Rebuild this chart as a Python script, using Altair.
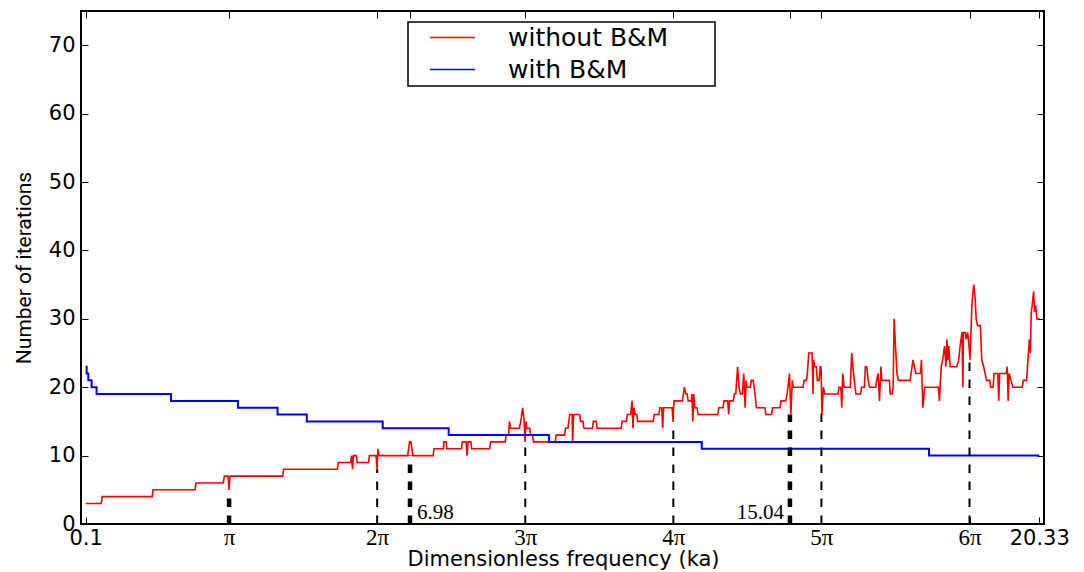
import math
import altair as alt
import pandas as pd

PI = math.pi

# "without B&M" series: (ka, number of iterations) vertices
red_points = [
    (0.10, 3), (0.43, 3), (0.45, 4), (1.51, 4), (1.53, 5), (2.42, 5), (2.44, 6),
    (3.02, 6), (3.04, 7), (3.12, 7), (3.14, 5), (3.16, 7), (4.28, 7), (4.30, 8),
    (5.44, 8), (5.46, 9), (5.72, 9), (5.74, 10), (5.76, 8), (5.78, 10), (5.84, 10),
    (5.86, 9), (6.10, 9), (6.12, 10), (6.26, 10), (6.28, 8), (6.30, 11), (6.32, 10),
    (6.93, 10), (6.97, 12), (7.00, 12), (7.04, 10), (7.47, 10), (7.49, 11),
    (7.69, 11), (7.70, 12), (7.75, 12), (7.76, 11), (8.07, 11), (8.09, 12),
    (8.17, 12), (8.19, 10), (8.21, 12), (8.27, 12), (8.29, 11), (8.67, 11),
    (8.69, 12), (9.00, 12), (9.02, 13), (9.07, 13), (9.09, 15), (9.11, 14),
    (9.30, 14), (9.33, 15), (9.37, 17), (9.40, 15), (9.42, 12), (9.44, 15),
    (9.46, 14), (9.52, 14), (9.54, 13), (9.58, 13), (9.60, 12), (10.06, 12),
    (10.08, 13), (10.26, 13), (10.28, 14), (10.33, 14), (10.35, 15), (10.37, 16),
    (10.42, 16), (10.43, 12), (10.45, 16), (10.58, 16), (10.60, 15), (10.65, 15),
    (10.67, 14), (10.85, 14), (10.87, 15), (10.93, 15), (10.95, 14), (11.46, 14),
    (11.48, 15), (11.57, 15), (11.59, 16), (11.66, 16), (11.69, 18), (11.71, 14),
    (11.73, 17), (11.76, 16), (11.79, 16), (11.81, 15), (12.14, 15), (12.16, 16),
    (12.26, 16), (12.28, 17), (12.32, 17), (12.34, 14), (12.36, 17), (12.54, 17),
    (12.56, 15), (12.58, 18), (12.76, 18), (12.80, 20), (12.83, 19), (12.86, 19),
    (12.88, 18), (12.95, 18), (12.96, 19), (12.98, 15), (13.00, 19), (13.02, 17),
    (13.07, 17), (13.09, 16), (13.51, 16), (13.53, 17), (13.62, 17), (13.64, 18),
    (13.72, 18), (13.74, 16), (13.76, 18), (13.84, 18), (13.86, 19), (13.89, 19),
    (13.93, 23), (13.96, 20), (13.99, 19), (14.03, 19), (14.06, 22), (14.09, 17),
    (14.11, 21), (14.13, 20), (14.20, 20), (14.22, 21), (14.26, 21), (14.30, 19),
    (14.33, 17), (14.51, 17), (14.53, 16), (14.65, 16), (14.67, 17), (14.83, 17),
    (14.85, 18), (14.95, 18), (14.98, 19), (15.03, 22), (15.06, 16), (15.09, 21),
    (15.11, 20), (15.32, 20), (15.34, 21), (15.39, 21), (15.41, 22), (15.44, 25),
    (15.51, 25), (15.53, 19), (15.54, 24), (15.57, 23), (15.60, 23), (15.62, 21),
    (15.66, 21), (15.68, 23), (15.70, 23), (15.72, 16), (15.75, 20), (15.78, 19),
    (16.06, 19), (16.08, 20), (16.12, 20), (16.14, 17), (16.16, 22), (16.19, 20),
    (16.32, 20), (16.35, 25), (16.39, 22), (16.42, 20), (16.44, 19), (16.54, 19),
    (16.56, 20), (16.62, 20), (16.64, 23), (16.67, 23), (16.70, 21), (16.73, 20),
    (16.86, 20), (16.88, 21), (16.91, 22), (16.94, 18), (16.97, 23), (16.99, 21),
    (17.15, 21), (17.17, 19), (17.21, 19), (17.23, 20), (17.25, 30), (17.28, 26),
    (17.31, 22), (17.34, 21), (17.59, 21), (17.61, 22), (17.65, 24), (17.68, 23),
    (17.71, 22), (17.81, 22), (17.83, 24), (17.86, 17), (17.90, 20), (18.19, 20),
    (18.21, 18), (18.25, 23), (18.28, 24), (18.32, 26), (18.35, 23), (18.37, 27),
    (18.39, 24), (18.41, 26), (18.44, 23), (18.58, 23), (18.62, 24), (18.65, 26),
    (18.69, 28), (18.71, 20), (18.72, 28), (18.76, 28), (18.78, 27), (18.81, 28),
    (18.84, 26), (18.86, 24), (18.90, 32), (18.94, 35), (18.97, 33), (18.99, 30),
    (19.02, 29), (19.08, 29), (19.11, 24), (19.15, 23), (19.18, 22), (19.21, 21),
    (19.28, 21), (19.30, 20), (19.35, 20), (19.37, 22), (19.45, 22), (19.47, 18),
    (19.49, 22), (19.63, 22), (19.65, 23), (19.67, 18), (19.69, 22), (19.73, 21),
    (19.77, 20), (19.97, 20), (19.99, 21), (20.06, 21), (20.08, 23), (20.12, 27),
    (20.14, 25), (20.16, 31), (20.18, 32), (20.21, 34), (20.23, 31), (20.25, 32),
    (20.28, 30), (20.33, 30),
]

# "with B&M" series: step breakpoints (value holds until the next x)
blue_x = [0.10, 0.12, 0.155, 0.225, 0.33, 1.91, 3.33, 4.17, 4.79, 6.40, 7.80,
          9.93, 13.17, 17.99, 20.33]
blue_y = [23, 22, 21, 20, 19, 18, 17, 16, 15, 14, 13, 12, 11, 10, 10]

series_names = ["without B&M", "with B&M"]
series_colors = ["#ff0000", "#0000ff"]

# dashed vertical markers
marker_x = [PI, 2 * PI, 6.98, 3 * PI, 4 * PI, 15.04, 5 * PI, 6 * PI]
marker_top = [5, 8, 10, 12, 15, 16, 16.5, 24]
marker_width = [4.5, 2, 4.5, 2, 2, 4.5, 2, 2]

# in-plot annotations
note_x = [6.98, 15.04]
note_text = ["6.98", "15.04"]
note_side = ["left", "right"]

x_tick_values = [0.1, PI, 2 * PI, 6.98, 3 * PI, 4 * PI, 15.04, 5 * PI, 6 * PI, 20.33]
x_tick_labels = ["0.1", "π", "2π", "", "3π", "4π", "", "5π", "6π", "20.33"]
y_tick_values = [0, 10, 20, 30, 40, 50, 60, 70]

X_DOMAIN = [0, 20.43]
Y_DOMAIN = [0, 75]

red_df = pd.DataFrame({
    "ka": [p[0] for p in red_points],
    "n": [p[1] for p in red_points],
    "series": series_names[0],
})
blue_df = pd.DataFrame({"ka": blue_x, "n": blue_y, "series": series_names[1]})
marker_df = pd.DataFrame({"ka": marker_x, "top": marker_top, "zero": 0, "w": marker_width})
note_df = pd.DataFrame({"ka": note_x, "label": note_text, "side": note_side, "zero": 0})

expr = "''"
for v, t in reversed(list(zip(x_tick_values, x_tick_labels))):
    expr = f"(abs(datum.value - {v:.6f}) < 0.001 ? '{t}' : {expr})"
label_expr = expr

xs = alt.Scale(domain=X_DOMAIN, nice=False, zero=False)
ys = alt.Scale(domain=Y_DOMAIN, nice=False)
cs = alt.Scale(domain=series_names, range=series_colors)

sans_test = "datum.value < 1 || datum.value > 20"

x_axis_bottom = alt.Axis(
    orient="bottom", values=x_tick_values, labelExpr=label_expr,
    title="Dimensionless frequency (ka)", offset=-7, tickSize=7, domain=False,
    grid=False, labelFlush=False, labelOverlap=False, labelPadding=20,
    labelBaseline="alphabetic",
    labelFont={"condition": {"test": sans_test, "value": "DejaVu Sans"}, "value": "Liberation Serif"},
    labelFontSize={"condition": {"test": sans_test, "value": 21}, "value": 23},
    titleFont="DejaVu Sans", titleFontSize=21, titleFontWeight="normal",
    titleX=482, titleY=48, titleBaseline="alphabetic", titleAlign="center",
)
y_axis_left = alt.Axis(
    orient="left", values=y_tick_values, title="Number of iterations",
    offset=-7, tickSize=7, domain=False, grid=False, labelPadding=6,
    labelFont="DejaVu Sans", labelFontSize=21,
    titleFont="Roboto", titleFontSize=21, titleFontWeight="normal",
    titleX=-58, titleY=256.5, titleAngle=270, titleBaseline="alphabetic",
    titleAlign="center",
)
x_axis_top = alt.Axis(orient="top", values=x_tick_values, labels=False, title=None,
                      offset=-7, tickSize=7, domain=False, grid=False)
y_axis_right = alt.Axis(orient="right", values=y_tick_values, labels=False, title=None,
                        offset=-7, tickSize=7, domain=False, grid=False)

legend = alt.Legend(
    title=" ", titleOrient="right", titlePadding=44,
    orient="none", legendX=327, legendY=11,
    symbolType="M-3,0H3", symbolSize=225, symbolStrokeWidth=1.5,
    symbolOffset=29, labelOffset=43, labelFont="DejaVu Sans", labelFontSize=25,
    labelColor="black", rowPadding=6, padding=3, strokeColor="black",
    fillColor="white", labelLimit=400,
)

red_line = alt.Chart(red_df).mark_line(strokeWidth=1.6).encode(
    x=alt.X("ka:Q", scale=xs, axis=x_axis_bottom),
    y=alt.Y("n:Q", scale=ys, axis=y_axis_left),
    color=alt.Color("series:N", scale=cs, legend=legend),
)
blue_line = alt.Chart(blue_df).mark_line(strokeWidth=2, interpolate="step-after").encode(
    x=alt.X("ka:Q", scale=xs, axis=None),
    y=alt.Y("n:Q", scale=ys, axis=None),
    color=alt.Color("series:N", scale=cs, legend=legend),
)
rules = alt.Chart(marker_df).mark_rule(color="black", strokeDash=[8.5, 8.5]).encode(
    x=alt.X("ka:Q", scale=xs, axis=x_axis_top),
    y=alt.Y("zero:Q", scale=ys, axis=y_axis_right),
    y2="top:Q",
    strokeWidth=alt.StrokeWidth("w:Q", scale=None),
)
notes_left = alt.Chart(note_df).transform_filter("datum.side == 'left'").mark_text(
    align="left", baseline="alphabetic", dx=7, dy=-5, font="Liberation Serif",
    fontSize=21, color="black",
).encode(
    x=alt.X("ka:Q", scale=xs, axis=None),
    y=alt.Y("zero:Q", scale=ys, axis=None),
    text="label:N",
)
notes_right = alt.Chart(note_df).transform_filter("datum.side == 'right'").mark_text(
    align="right", baseline="alphabetic", dx=-6, dy=-5, font="Liberation Serif",
    fontSize=21, color="black",
).encode(
    x=alt.X("ka:Q", scale=xs, axis=None),
    y=alt.Y("zero:Q", scale=ys, axis=None),
    text="label:N",
)

chart = alt.layer(red_line, blue_line, rules, notes_left, notes_right).resolve_axis(
    x="independent", y="independent"
).properties(
    width=963, height=513,
    autosize=alt.AutoSizeParams(type="none"),
    padding={"left": 73, "top": 3, "right": 32, "bottom": 48},
    background="white",
).configure_view(
    stroke="black", strokeWidth=2
).configure_axis(
    tickColor="black", tickWidth=1, labelColor="black", titleColor="black"
).configure_legend(
    strokeWidth=1.5
)

chart.save("out.html", embed_options={"renderer": "svg", "actions": False})
